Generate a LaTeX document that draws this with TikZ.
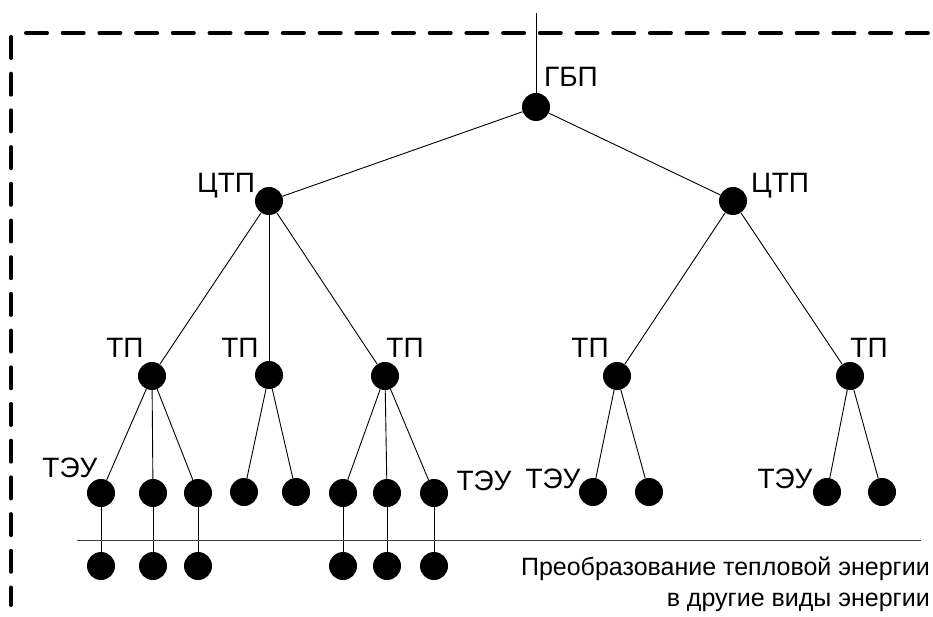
\documentclass[tikz,border=0pt]{standalone}
\usepackage{fontspec}
\setmainfont{Liberation Sans}
\begin{document}
\begin{tikzpicture}[x=1pt,y=-1pt,
  dot/.style={circle,fill=black,draw=none,inner sep=0pt,minimum size=28pt},
  lbl/.style={inner sep=0pt,anchor=base,font=\fontsize{28}{32}\selectfont},
  edge/.style={line width=0.9pt},
  frame/.style={line width=4pt,line cap=round,dash pattern=on 21pt off 15.7pt}]
\useasboundingbox (0,0) rectangle (933,617);

% dashed boundary of the system
\draw[frame] (26,33) -- (933,33);
\draw[frame] (11,37) -- (11,605);

% supply input
\coordinate (in) at (536,13);

% tree nodes
\node[dot] (g)  at (536,107) {};
\node[dot] (c1) at (269,201) {};
\node[dot] (c2) at (733,201) {};
\node[dot] (t1) at (152,376) {};
\node[dot] (t2) at (269,375) {};
\node[dot] (t3) at (385,376) {};
\node[dot] (t4) at (617,376) {};
\node[dot] (t5) at (850,376) {};
% heat-consuming units
\node[dot] (u1)  at (101,493) {};
\node[dot] (u2)  at (153,493) {};
\node[dot] (u3)  at (198,493) {};
\node[dot] (u4)  at (244,492) {};
\node[dot] (u5)  at (296,492) {};
\node[dot] (u6)  at (343,493) {};
\node[dot] (u7)  at (387,493) {};
\node[dot] (u8)  at (434,493) {};
\node[dot] (u9)  at (593,492) {};
\node[dot] (u10) at (649,492) {};
\node[dot] (u11) at (827,492) {};
\node[dot] (u12) at (882,492) {};
% conversion stage
\node[dot] (v1) at (101,566) {};
\node[dot] (v2) at (153,566) {};
\node[dot] (v3) at (198,566) {};
\node[dot] (v6) at (343,566) {};
\node[dot] (v7) at (387,566) {};
\node[dot] (v8) at (434,566) {};

% connections
\draw[edge] (in) -- (g);
\draw[edge] (g) -- (c1);
\draw[edge] (g) -- (c2);
\draw[edge] (c1) -- (t1);
\draw[edge] (c1) -- (t2);
\draw[edge] (c1) -- (t3);
\draw[edge] (c2) -- (t4);
\draw[edge] (c2) -- (t5);
\draw[edge] (t1) -- (u1);
\draw[edge] (t1) -- (u2);
\draw[edge] (t1) -- (u3);
\draw[edge] (t2) -- (u4);
\draw[edge] (t2) -- (u5);
\draw[edge] (t3) -- (u6);
\draw[edge] (t3) -- (u7);
\draw[edge] (t3) -- (u8);
\draw[edge] (t4) -- (u9);
\draw[edge] (t4) -- (u10);
\draw[edge] (t5) -- (u11);
\draw[edge] (t5) -- (u12);
\draw[edge] (u1) -- (v1);
\draw[edge] (u2) -- (v2);
\draw[edge] (u3) -- (v3);
\draw[edge] (u6) -- (v6);
\draw[edge] (u7) -- (v7);
\draw[edge] (u8) -- (v8);

% boundary of the conversion stage
\coordinate (sl) at (77,540);
\coordinate (sr) at (921,540);
\draw[edge,black!75] (sl) -- (sr);

% labels
\node[lbl] (lg)  at (571,87)  {ГБП};
\node[lbl] (lc1) at (226,193) {ЦТП};
\node[lbl] (lc2) at (780,193) {ЦТП};
\node[lbl] (lt1) at (125,357) {ТП};
\node[lbl] (lt2) at (240,357) {ТП};
\node[lbl] (lt3) at (405,357) {ТП};
\node[lbl] (lt4) at (590,357) {ТП};
\node[lbl] (lt5) at (869,357) {ТП};
\node[lbl] (lu1) at (70,477)  {ТЭУ};
\node[lbl] (lu8) at (484,490) {ТЭУ};
\node[lbl] (lu9) at (553,488) {ТЭУ};
\node[lbl] (lu11) at (785,488) {ТЭУ};

\node[inner sep=0pt,anchor=base east,align=right,font=\fontsize{25}{31}\selectfont]
  (conv) at (930,606) {Преобразование тепловой энергии\\в другие виды энергии};
\end{tikzpicture}
\end{document}
